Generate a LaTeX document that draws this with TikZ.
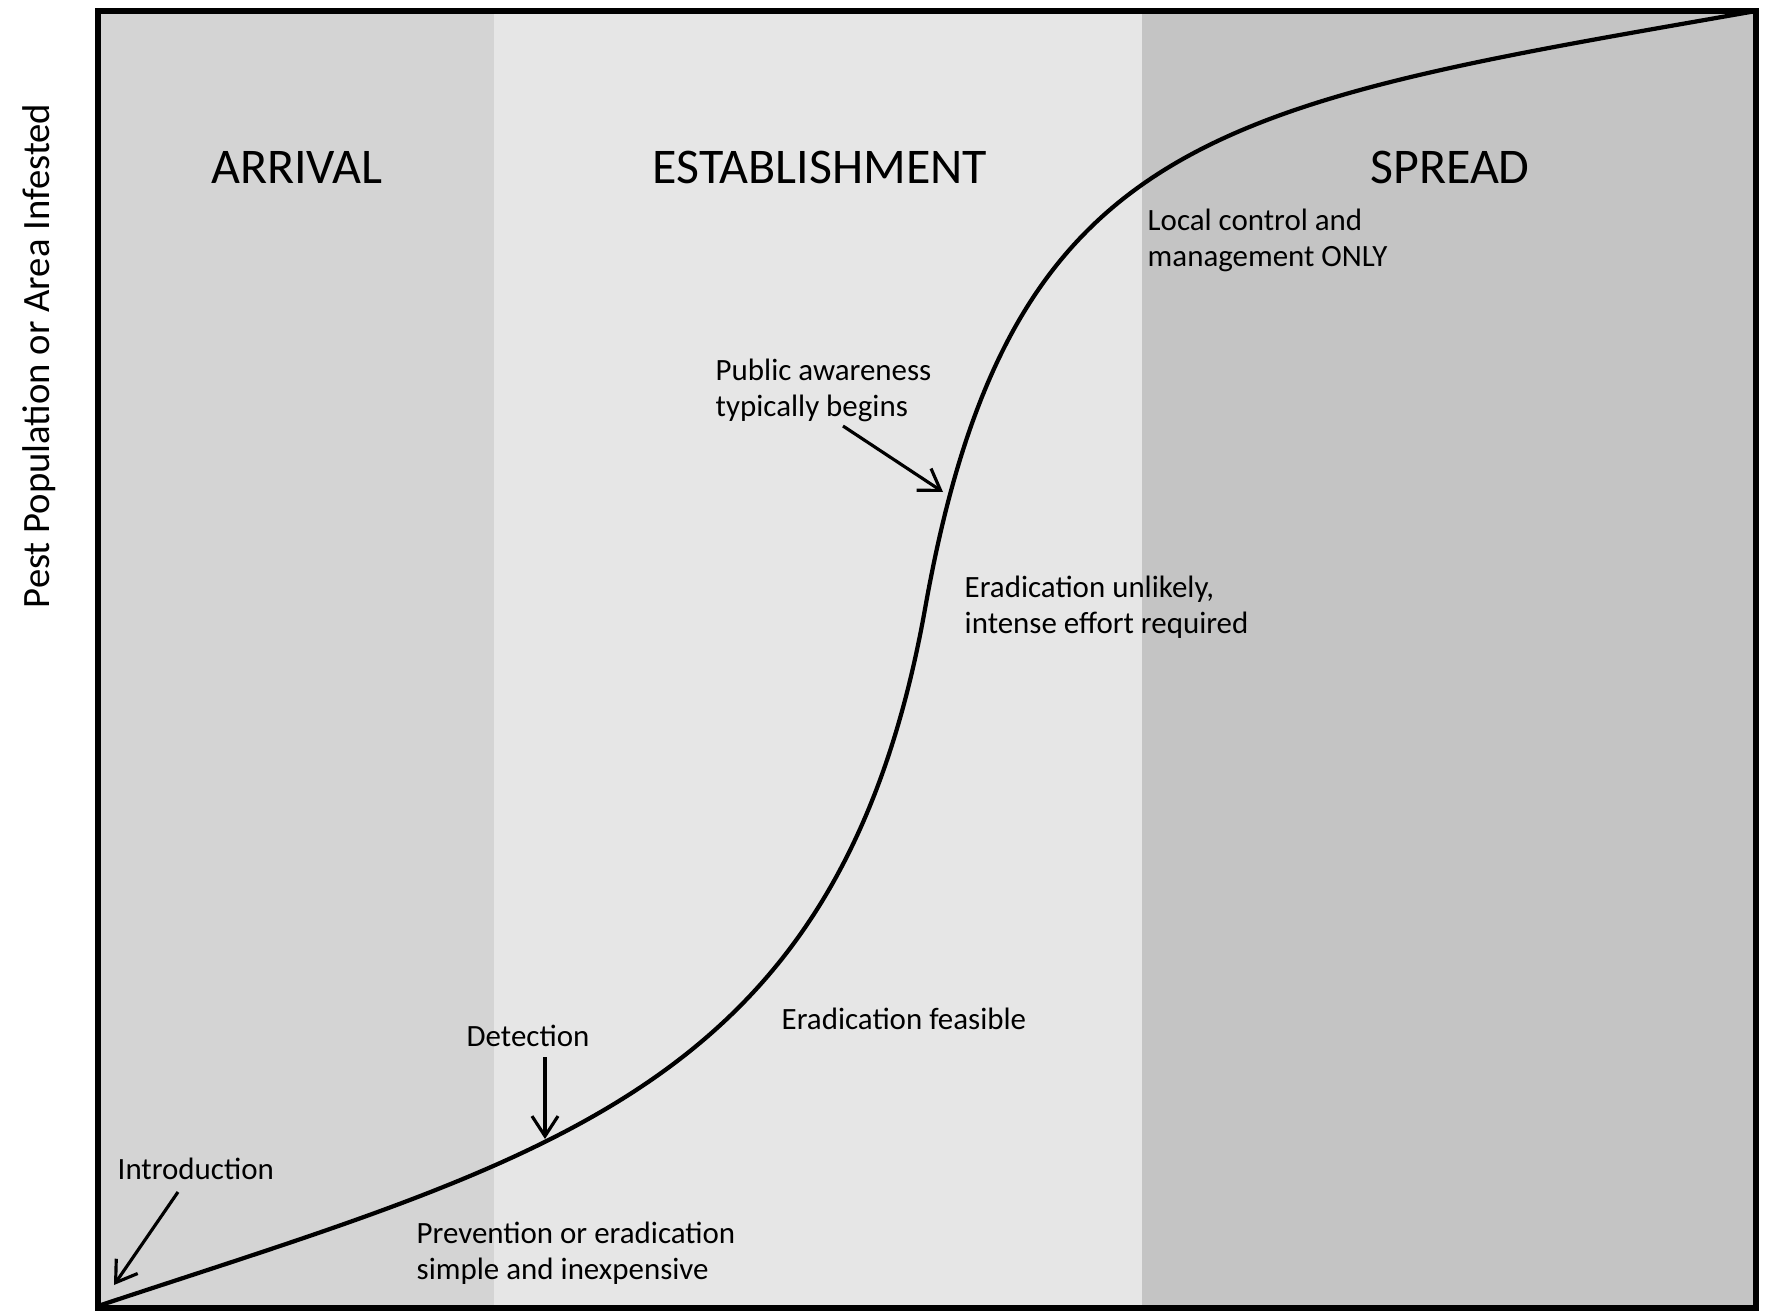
\documentclass[tikz,border=0pt]{standalone}
\usepackage{fontspec}
\setmainfont{Carlito}
\usetikzlibrary{arrows.meta}
\usetikzlibrary{positioning}
\definecolor{arrivalgray}{RGB}{212,212,212}
\definecolor{establgray}{RGB}{230,230,230}
\definecolor{spreadgray}{RGB}{196,196,196}
\tikzset{phase/.style = {font=\fontsize{14.2}{16}\selectfont}}
\tikzset{note/.style = {font=\fontsize{8.8}{10.2}\selectfont, align=left, inner sep=0}}
\tikzset{pointer/.style = {-{Straight Barb[length=0.2cm, width=0.26cm]}, line width=0.9pt}}

\begin{document}
\begin{tikzpicture}[x=0.01cm, y=-0.01cm]
    \useasboundingbox (0,0) rectangle (1768,1312);
    \fill [arrivalgray] (98,11) rectangle (494,1308);
    \fill [establgray] (494,11) rectangle (1142,1308);
    \fill [spreadgray] (1142,11) rectangle (1756,1308);
    \draw [line width=1.5pt] (98,11) rectangle (1756,1308);

    \draw [line width=1.2pt] (101,1305) .. controls (551,1156) and (839,1089) .. (925,609)
                             .. controls (1010,130) and (1220,105) .. (1756,11);

    \node [rotate=90, font=\fontsize{11}{13}\selectfont] (ylabel) at (39,356) {Pest Population or Area Infested};

    \node [phase] (arrival) at (297,167) {ARRIVAL};
    \node [phase] (establishment) at (820,167) {ESTABLISHMENT};
    \node [phase] (spread) at (1450,167) {SPREAD};

    \node [note, anchor=west] (local) at (1147,240) {Local control and\\management ONLY};
    \node [note, anchor=west] (public) at (715,390) {Public awareness\\typically begins};
    \node [note, anchor=west] (unlikely) at (964,607) {Eradication unlikely,\\intense effort required};
    \node [note, anchor=west] (feasible) at (781,1019) {Eradication feasible};
    \node [note] (detection) at (528,1036) {Detection};
    \node [note, anchor=west] (intro) at (117,1169) {Introduction};
    \node [note, anchor=west] (prevention) at (416,1253) {Prevention or eradication\\simple and inexpensive};

    \coordinate (public tail) at (843,426);
    \coordinate (public tip) at (943,492);
    \coordinate (detection tail) at (545,1057);
    \coordinate (detection tip) at (545,1139);
    \coordinate (intro tail) at (178,1192);
    \coordinate (intro tip) at (114,1285);
    \draw [pointer] (public tail) -- (public tip);
    \draw [pointer] (detection tail) -- (detection tip);
    \draw [pointer] (intro tail) -- (intro tip);
\end{tikzpicture}
\end{document}
